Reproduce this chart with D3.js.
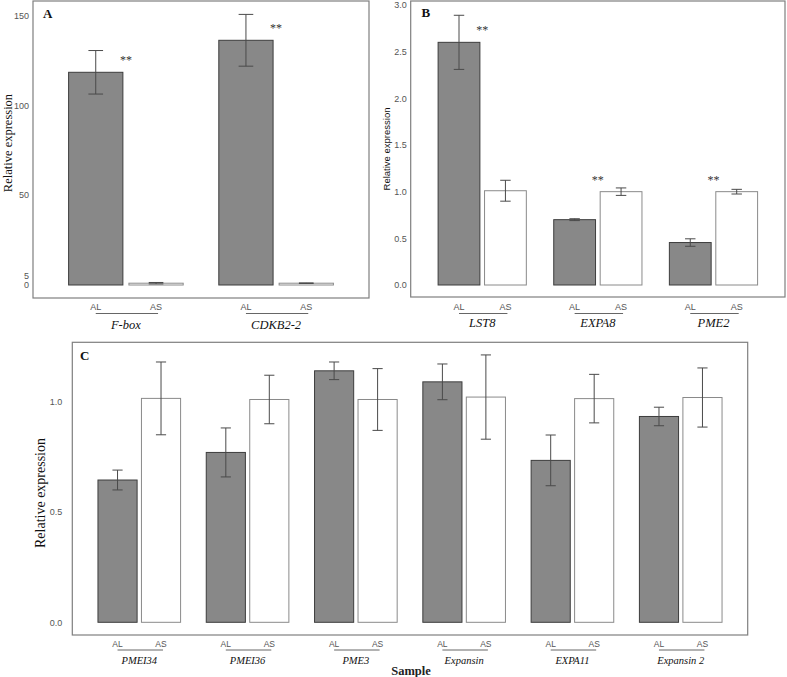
<!DOCTYPE html>
<html><head><meta charset="utf-8">
<script src="https://cdn.jsdelivr.net/npm/d3@7"></script>
<style>
html,body{margin:0;padding:0;background:#fff;}
svg{display:block;}
</style></head>
<body>
<svg id="chart" width="787" height="677"></svg>
<script>
// ---------- data ----------
const samples = ["AL", "AS"];

const genesA = ["F-box", "CDKB2-2"];
const alMeanA = [118.3, 136.1];
const alSdA   = [12.1, 14.4];
const asMeanA = [1.0, 1.0];
const asSdA   = [0.4, 0.15];
const sigA    = ["**", "**"];
const ticksA  = [0, 5, 50, 100, 150];

const genesB = ["LST8", "EXPA8", "PME2"];
const alMeanB = [2.60, 0.70, 0.455];
const alSdB   = [0.29, 0.01, 0.04];
const asMeanB = [1.01, 1.00, 1.00];
const asSdB   = [0.112, 0.04, 0.025];
const sigB    = ["**", "**", "**"];
const ticksB  = [0, 0.5, 1.0, 1.5, 2.0, 2.5, 3.0];

const genesC = ["PMEI34", "PMEI36", "PME3", "Expansin", "EXPA11", "Expansin 2"];
const alMeanC = [0.645, 0.770, 1.140, 1.090, 0.734, 0.933];
const alSdC   = [0.045, 0.111, 0.040, 0.081, 0.115, 0.042];
const asMeanC = [1.015, 1.010, 1.010, 1.021, 1.014, 1.019];
const asSdC   = [0.165, 0.110, 0.140, 0.191, 0.110, 0.134];
const sigC    = ["", "", "", "", "", ""];
const ticksC  = [0, 0.5, 1.0];

// ---------- drawing ----------
const svg = d3.select("#chart");
const serif = "'Liberation Serif','Times New Roman',serif";
const sans = "'Liberation Sans',Arial,sans-serif";

function panel(cfg) {
  const g = svg.append("g");
  const f = cfg.frame;
  const y = d3.scaleLinear().domain(cfg.yDomain).range(cfg.yRange);
  const x = d3.scaleBand().domain(cfg.genes).range([f.x0, f.x1]).padding(0.237);
  const xi = d3.scaleBand().domain(samples).range([0, x.bandwidth()]).paddingInner(0.1).paddingOuter(0);

  const rows = [];
  cfg.genes.forEach((gene, i) => {
    rows.push({gene, s: "AL", v: cfg.al[i], sd: cfg.alSd[i]});
    rows.push({gene, s: "AS", v: cfg.as[i], sd: cfg.asSd[i]});
  });

  // frame
  g.append("rect").attr("x", f.x0).attr("y", f.y0)
    .attr("width", f.x1 - f.x0).attr("height", f.y1 - f.y0)
    .attr("fill", "none").attr("stroke", "#7f7f7f").attr("stroke-width", 1.2);

  // bars
  g.selectAll("rect.bar").data(rows).enter().append("rect")
    .attr("class", "bar")
    .attr("x", d => x(d.gene) + xi(d.s))
    .attr("width", xi.bandwidth())
    .attr("y", d => y(d.v))
    .attr("height", d => y(0) - y(d.v))
    .attr("fill", d => d.s === "AL" ? "#888888" : "#ffffff")
    .attr("stroke", d => d.s === "AL" ? "#3d3d3d" : "#8a8a8a")
    .attr("stroke-width", 1);

  // error bars
  const capW = xi.bandwidth() * cfg.cap;
  const eb = g.selectAll("g.err").data(rows).enter().append("g").attr("class", "err")
    .attr("stroke", "#4a4a4a").attr("stroke-width", 1);
  eb.append("line")
    .attr("x1", d => x(d.gene) + xi(d.s) + xi.bandwidth() / 2)
    .attr("x2", d => x(d.gene) + xi(d.s) + xi.bandwidth() / 2)
    .attr("y1", d => y(d.v + d.sd)).attr("y2", d => y(d.v - d.sd));
  [1, -1].forEach(sign => {
    eb.append("line")
      .attr("x1", d => x(d.gene) + xi(d.s) + xi.bandwidth() / 2 - capW / 2)
      .attr("x2", d => x(d.gene) + xi(d.s) + xi.bandwidth() / 2 + capW / 2)
      .attr("y1", d => y(d.v + sign * d.sd)).attr("y2", d => y(d.v + sign * d.sd));
  });

  // significance marks
  g.selectAll("text.sig").data(cfg.genes).enter().append("text")
    .attr("class", "sig")
    .attr("x", d => x(d) + x.bandwidth() / 2)
    .attr("y", (d, i) => y(Math.max(cfg.al[i], cfg.as[i])) - 8)
    .attr("text-anchor", "middle")
    .attr("font-family", serif).attr("font-size", 12).attr("fill", "#333")
    .text((d, i) => cfg.sig[i]);

  // y axis
  const ax = g.append("g").attr("transform", `translate(${f.x0},0)`)
    .call(d3.axisLeft(y).tickValues(cfg.ticks).tickFormat(d3.format(cfg.fmt)).tickSize(0).tickPadding(cfg.tickPad));
  ax.select(".domain").remove();
  ax.selectAll("text").attr("font-family", sans).attr("font-size", cfg.tickFs).attr("fill", "#555");

  // sample labels + underline + gene names
  cfg.genes.forEach(gene => {
    samples.forEach(s => {
      g.append("text")
        .attr("x", x(gene) + xi(s) + xi.bandwidth() / 2)
        .attr("y", cfg.sampleY)
        .attr("text-anchor", "middle")
        .attr("font-family", sans).attr("font-size", cfg.sampleFs).attr("fill", "#555")
        .text(s);
    });
    g.append("line")
      .attr("x1", x(gene) + xi("AL") + xi.bandwidth() / 2)
      .attr("x2", x(gene) + xi("AS") + xi.bandwidth() / 2 + 2)
      .attr("y1", cfg.lineY).attr("y2", cfg.lineY)
      .attr("stroke", "#666").attr("stroke-width", 1);
    g.append("text")
      .attr("x", x(gene) + x.bandwidth() / 2)
      .attr("y", cfg.geneY)
      .attr("text-anchor", "middle")
      .attr("font-family", serif).attr("font-style", "italic")
      .attr("font-size", cfg.geneFs).attr("fill", "#111")
      .text(gene);
  });

  // panel letter
  g.append("text").attr("x", cfg.letterX).attr("y", cfg.letterY)
    .attr("font-family", serif).attr("font-weight", "bold").attr("font-size", 13)
    .attr("fill", "#111").text(cfg.letter);

  // y title
  g.append("text")
    .attr("transform", `translate(${cfg.titleX},${cfg.titleY}) rotate(-90)`)
    .attr("text-anchor", "middle").attr("dominant-baseline", "central")
    .attr("font-family", cfg.titleFont).attr("font-size", cfg.titleFs).attr("fill", "#111")
    .text("Relative expression");
}

panel({
  letter: "A", letterX: 43, letterY: 18,
  genes: genesA, al: alMeanA, alSd: alSdA, as: asMeanA, asSd: asSdA, sig: sigA,
  frame: {x0: 33, x1: 369, y0: 1, y1: 298},
  yDomain: [0, 150], yRange: [285, 15.3], ticks: ticksA, fmt: "d", tickPad: 4, tickFs: 9,
  cap: 0.27,
  sampleY: 309.5, sampleFs: 9, lineY: 313.5, geneY: 329, geneFs: 12.5,
  titleX: 8, titleY: 143, titleFont: serif, titleFs: 12.5
});

panel({
  letter: "B", letterX: 421.5, letterY: 17,
  genes: genesB, al: alMeanB, alSd: alSdB, as: asMeanB, asSd: asSdB, sig: sigB,
  frame: {x0: 410.7, x1: 785, y0: 1, y1: 297},
  yDomain: [0, 3], yRange: [285, 5], ticks: ticksB, fmt: ".1f", tickPad: 4, tickFs: 9,
  cap: 0.25,
  sampleY: 309.5, sampleFs: 9, lineY: 313.5, geneY: 327, geneFs: 12.5,
  titleX: 386, titleY: 149, titleFont: sans, titleFs: 9.5
});

panel({
  letter: "C", letterX: 80, letterY: 360,
  genes: genesC, al: alMeanC, alSd: alSdC, as: asMeanC, asSd: asSdC, sig: sigC,
  frame: {x0: 72.3, x1: 747.7, y0: 342.3, y1: 635},
  yDomain: [0, 1], yRange: [622.3, 401.7], ticks: ticksC, fmt: ".1f", tickPad: 10, tickFs: 9,
  cap: 0.26,
  sampleY: 646.5, sampleFs: 8.5, lineY: 650, geneY: 663.5, geneFs: 10.5,
  titleX: 40, titleY: 493, titleFont: serif, titleFs: 14
});

// x-axis title for panel C
svg.append("text").attr("x", 411).attr("y", 675)
  .attr("text-anchor", "middle")
  .attr("font-family", serif).attr("font-weight", "bold").attr("font-size", 12.5)
  .attr("fill", "#222").text("Sample");
</script>
</body></html>
